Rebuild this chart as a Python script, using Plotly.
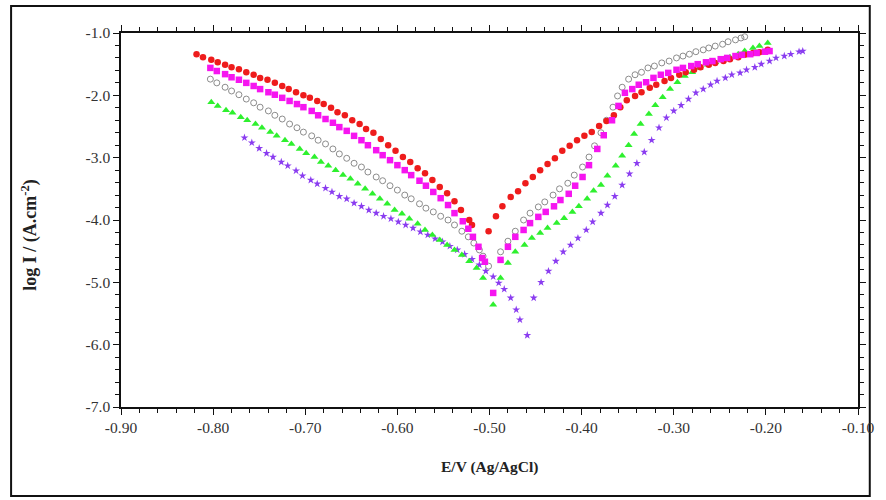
import plotly.graph_objects as go

# ---------------- data (E / V vs Ag/AgCl, log I / A cm^-2) ----------------
red_x = [-0.818, -0.811, -0.802, -0.795, -0.787, -0.780, -0.772, -0.764, -0.756, -0.749,
         -0.741, -0.733, -0.725, -0.718, -0.710, -0.702, -0.695, -0.687, -0.680, -0.672,
         -0.665, -0.657, -0.649, -0.641, -0.634, -0.626, -0.618, -0.610, -0.602, -0.594,
         -0.586, -0.578, -0.570, -0.562, -0.554, -0.546, -0.538, -0.531, -0.522, -0.519,
         -0.501,
         -0.493, -0.486, -0.477, -0.469, -0.461, -0.453, -0.445, -0.437, -0.429, -0.421,
         -0.413, -0.405, -0.397, -0.389, -0.381, -0.373, -0.365, -0.358, -0.351, -0.342,
         -0.335, -0.326, -0.319, -0.310, -0.303, -0.294, -0.287, -0.278, -0.271, -0.262,
         -0.255, -0.246, -0.239, -0.230, -0.223, -0.214, -0.207, -0.198]
red_y = [-1.34, -1.39, -1.43, -1.47, -1.51, -1.55, -1.58, -1.63, -1.67, -1.72,
         -1.75, -1.80, -1.85, -1.90, -1.95, -2.00, -2.04, -2.09, -2.14, -2.20,
         -2.27, -2.32, -2.40, -2.46, -2.54, -2.60, -2.70, -2.80, -2.89, -2.99,
         -3.07, -3.17, -3.25, -3.36, -3.47, -3.57, -3.70, -3.84, -4.00, -4.08,
         -4.18,
         -3.94, -3.78, -3.63, -3.54, -3.41, -3.31, -3.20, -3.10, -3.01, -2.89,
         -2.81, -2.72, -2.65, -2.59, -2.49, -2.41, -2.32, -2.19, -2.08, -2.01,
         -1.95, -1.88, -1.83, -1.77, -1.72, -1.67, -1.63, -1.59, -1.55, -1.51,
         -1.48, -1.45, -1.42, -1.39, -1.35, -1.32, -1.31, -1.27]

magenta_x = [-0.803, -0.796, -0.787, -0.780, -0.772, -0.764, -0.756, -0.749, -0.740, -0.733,
             -0.725, -0.717, -0.709, -0.702, -0.693, -0.686, -0.678, -0.670, -0.663, -0.655,
             -0.647, -0.639, -0.632, -0.623, -0.616, -0.608, -0.600, -0.592, -0.585, -0.576,
             -0.569, -0.561, -0.553, -0.545, -0.538, -0.529, -0.523, -0.518, -0.512, -0.508,
             -0.505, -0.496,
             -0.488, -0.480, -0.472, -0.463, -0.456, -0.447, -0.439, -0.430, -0.423, -0.414,
             -0.407, -0.399, -0.392, -0.383, -0.376, -0.367, -0.360, -0.353, -0.345, -0.338,
             -0.330, -0.322, -0.314, -0.306, -0.297, -0.290, -0.281, -0.274, -0.265, -0.258,
             -0.249, -0.242, -0.233, -0.226, -0.217, -0.210, -0.201, -0.196]
magenta_y = [-1.56, -1.61, -1.66, -1.71, -1.75, -1.80, -1.85, -1.90, -1.95, -1.99,
             -2.04, -2.09, -2.14, -2.19, -2.25, -2.32, -2.38, -2.44, -2.51, -2.57,
             -2.65, -2.72, -2.80, -2.88, -2.96, -3.04, -3.12, -3.20, -3.28, -3.37,
             -3.45, -3.55, -3.65, -3.76, -3.89, -4.02, -4.14, -4.27, -4.43, -4.61,
             -4.67, -5.17,
             -4.64, -4.43, -4.27, -4.16, -4.05, -3.95, -3.87, -3.78, -3.68, -3.58,
             -3.45, -3.31, -3.12, -2.86, -2.64, -2.40, -2.17, -1.96, -1.90, -1.83,
             -1.79, -1.72, -1.67, -1.64, -1.59, -1.56, -1.53, -1.50, -1.47, -1.45,
             -1.42, -1.40, -1.37, -1.35, -1.34, -1.32, -1.30, -1.29]

gray_x = [-0.803, -0.796, -0.787, -0.780, -0.772, -0.764, -0.756, -0.749, -0.740, -0.733,
          -0.725, -0.717, -0.709, -0.702, -0.693, -0.686, -0.678, -0.670, -0.663, -0.655,
          -0.647, -0.639, -0.632, -0.623, -0.616, -0.608, -0.600, -0.592, -0.585, -0.576,
          -0.569, -0.561, -0.553, -0.545, -0.538, -0.530, -0.523, -0.517, -0.511, -0.507,
          -0.501,
          -0.488, -0.480, -0.472, -0.463, -0.456, -0.447, -0.440, -0.431, -0.424, -0.415,
          -0.408, -0.399, -0.392, -0.386, -0.379, -0.373, -0.366, -0.361, -0.356, -0.349,
          -0.342, -0.335, -0.328, -0.321, -0.313, -0.305, -0.297, -0.290, -0.283, -0.276,
          -0.268, -0.262, -0.255, -0.247, -0.241, -0.233, -0.227, -0.223]
gray_y = [-1.74, -1.80, -1.87, -1.93, -1.99, -2.06, -2.12, -2.19, -2.25, -2.32,
          -2.38, -2.46, -2.52, -2.59, -2.65, -2.72, -2.78, -2.86, -2.94, -3.01,
          -3.09, -3.15, -3.23, -3.31, -3.37, -3.45, -3.52, -3.60, -3.66, -3.74,
          -3.81, -3.87, -3.94, -4.00, -4.08, -4.18, -4.27, -4.37, -4.48, -4.58,
          -4.74,
          -4.51, -4.34, -4.18, -4.00, -3.89, -3.79, -3.71, -3.60, -3.50, -3.41,
          -3.28, -3.15, -2.99, -2.81, -2.60, -2.40, -2.19, -2.01, -1.87, -1.74,
          -1.67, -1.63, -1.56, -1.53, -1.48, -1.45, -1.40, -1.37, -1.34, -1.30,
          -1.27, -1.24, -1.21, -1.18, -1.14, -1.11, -1.08, -1.06]

green_x = [-0.802, -0.795, -0.786, -0.779, -0.770, -0.763, -0.754, -0.747, -0.738, -0.731,
           -0.722, -0.715, -0.706, -0.699, -0.690, -0.683, -0.675, -0.667, -0.659, -0.651,
           -0.643, -0.635, -0.627, -0.619, -0.611, -0.603, -0.595, -0.587, -0.578, -0.570,
           -0.562, -0.554, -0.546, -0.538, -0.530, -0.522, -0.514, -0.507, -0.496,
           -0.488, -0.480, -0.472, -0.462, -0.454, -0.445, -0.437, -0.427, -0.419, -0.410,
           -0.403, -0.394, -0.387, -0.379, -0.372, -0.363, -0.356, -0.349, -0.343, -0.336,
           -0.327, -0.320, -0.312, -0.304, -0.296, -0.288, -0.280, -0.272, -0.263, -0.255,
           -0.247, -0.239, -0.230, -0.223, -0.214, -0.207, -0.198]
green_y = [-2.11, -2.17, -2.24, -2.28, -2.35, -2.40, -2.46, -2.52, -2.59, -2.65,
           -2.72, -2.78, -2.86, -2.93, -2.99, -3.07, -3.13, -3.20, -3.28, -3.34,
           -3.42, -3.50, -3.58, -3.66, -3.74, -3.84, -3.90, -3.98, -4.06, -4.16,
           -4.24, -4.32, -4.40, -4.48, -4.56, -4.66, -4.77, -4.93, -5.36,
           -4.93, -4.69, -4.51, -4.40, -4.29, -4.21, -4.13, -4.05, -3.97, -3.87,
           -3.78, -3.66, -3.53, -3.44, -3.29, -3.13, -2.97, -2.80, -2.62, -2.46,
           -2.30, -2.16, -2.03, -1.90, -1.79, -1.69, -1.63, -1.56, -1.51, -1.47,
           -1.43, -1.39, -1.34, -1.29, -1.24, -1.21, -1.16]

purple_x = [-0.766, -0.758, -0.750, -0.742, -0.735, -0.726, -0.719, -0.710, -0.703, -0.694,
            -0.687, -0.678, -0.671, -0.663, -0.655, -0.647, -0.639, -0.631, -0.623, -0.615,
            -0.607, -0.599, -0.591, -0.583, -0.575, -0.567, -0.559, -0.551, -0.543, -0.535,
            -0.527, -0.519, -0.511, -0.504, -0.496, -0.490, -0.484, -0.477, -0.471, -0.467,
            -0.459,
            -0.452, -0.444, -0.436, -0.428, -0.420, -0.412, -0.404, -0.395, -0.388, -0.379,
            -0.372, -0.364, -0.356, -0.348, -0.340, -0.332, -0.324, -0.316, -0.308, -0.300,
            -0.292, -0.284, -0.276, -0.268, -0.260, -0.253, -0.244, -0.237, -0.228, -0.221,
            -0.212, -0.205, -0.196, -0.189, -0.180, -0.173, -0.164, -0.160]
purple_y = [-2.68, -2.76, -2.85, -2.93, -2.99, -3.07, -3.13, -3.21, -3.29, -3.36,
            -3.42, -3.49, -3.55, -3.62, -3.66, -3.73, -3.78, -3.84, -3.89, -3.94,
            -3.98, -4.03, -4.08, -4.13, -4.19, -4.24, -4.30, -4.35, -4.42, -4.48,
            -4.55, -4.63, -4.72, -4.82, -4.91, -5.01, -5.11, -5.25, -5.44, -5.60,
            -5.85,
            -5.25, -5.00, -4.82, -4.66, -4.51, -4.40, -4.29, -4.16, -4.03, -3.89,
            -3.76, -3.62, -3.44, -3.26, -3.09, -2.91, -2.72, -2.52, -2.36, -2.25,
            -2.16, -2.06, -1.96, -1.90, -1.83, -1.77, -1.72, -1.67, -1.64, -1.59,
            -1.55, -1.50, -1.45, -1.40, -1.37, -1.34, -1.30, -1.29]

x_tick_vals = [-0.9, -0.8, -0.7, -0.6, -0.5, -0.4, -0.3, -0.2, -0.1]
x_tick_text = ["-0.90", "-0.80", "-0.70", "-0.60", "-0.50", "-0.40", "-0.30", "-0.20", "-0.10"]
y_tick_vals = [-7, -6, -5, -4, -3, -2, -1]
y_tick_text = ["-7.0", "-6.0", "-5.0", "-4.0", "-3.0", "-2.0", "-1.0"]

x_title = "E/V (Ag/AgCl)"
y_title = "log I / (A.cm<sup>-2</sup>)"

# ---------------- figure ----------------
fig = go.Figure()

fig.add_trace(go.Scatter(x=purple_x, y=purple_y, mode="markers",
                         marker=dict(symbol="star", size=6, color="#8a3cf0", line=dict(width=0))))
fig.add_trace(go.Scatter(x=green_x, y=green_y, mode="markers",
                         marker=dict(symbol="triangle-up", size=7, color="#2ef02e", line=dict(width=0))))
fig.add_trace(go.Scatter(x=gray_x, y=gray_y, mode="markers",
                         marker=dict(symbol="circle-open", size=6, color="#8c8c8c", line=dict(width=1))))
fig.add_trace(go.Scatter(x=red_x, y=red_y, mode="markers",
                         marker=dict(symbol="circle", size=6.5, color="#ee1c1c", line=dict(width=0))))
fig.add_trace(go.Scatter(x=magenta_x, y=magenta_y, mode="markers",
                         marker=dict(symbol="square", size=6.5, color="#f615f0", line=dict(width=0))))

tick_font = dict(family="Liberation Serif", size=15.5, color="#333333")
title_font = dict(family="Liberation Serif", size=15.5, color="#222222")
ytitle_font = dict(family="Liberation Serif", size=18, color="#222222")

fig.update_xaxes(range=[-0.9, -0.1], tickmode="array", tickvals=x_tick_vals, ticktext=x_tick_text,
                 showgrid=False, zeroline=False, showline=True, linecolor="#111111", linewidth=1.5,
                 mirror="allticks", ticks="outside", ticklen=6, tickwidth=1.2, tickcolor="#111111",
                 tickfont=tick_font,
                 minor=dict(tickmode="linear", tick0=-0.9, dtick=0.02, ticks="outside",
                            ticklen=4, tickwidth=1, tickcolor="#111111", showgrid=False))
fig.update_yaxes(range=[-7, -1], tickmode="array", tickvals=y_tick_vals, ticktext=y_tick_text,
                 showgrid=False, zeroline=False, showline=True, linecolor="#111111", linewidth=1.5,
                 mirror="allticks", ticks="outside", ticklen=6, tickwidth=1.2, tickcolor="#111111",
                 tickfont=tick_font,
                 minor=dict(tickmode="linear", tick0=-7, dtick=0.2, ticks="outside",
                            ticklen=4, tickwidth=1, tickcolor="#111111", showgrid=False))

L, R, T, B = 121, 14, 33, 93
pw, ph = 886 - L - R, 500 - T - B

fig.update_layout(
    width=886, height=500, autosize=False,
    margin=dict(l=L, r=R, t=T, b=B, pad=0),
    paper_bgcolor="white", plot_bgcolor="white",
    showlegend=False,
    annotations=[
        dict(text="<b>" + x_title + "</b>", x=0.5, y=(407 - 467) / ph, xref="paper", yref="paper",
             showarrow=False, font=title_font, xanchor="center", yanchor="middle"),
        dict(text="<b>" + y_title + "</b>", x=(28 - L) / pw, y=(407 - 235) / ph, xref="paper", yref="paper",
             showarrow=False, font=ytitle_font, textangle=-90, xanchor="center", yanchor="middle"),
    ],
    shapes=[
        dict(type="rect", xref="paper", yref="paper",
             x0=(9 - L) / pw, x1=(884 - L) / pw, y0=(407 - 496) / ph, y1=(407 - 6) / ph,
             line=dict(color="#111111", width=2), fillcolor="rgba(0,0,0,0)", layer="below"),
    ],
)

fig.write_html("out.html",
               config={"displayModeBar": False, "responsive": False},
               post_script="document.body.style.margin='0';document.body.style.overflow='hidden';")
